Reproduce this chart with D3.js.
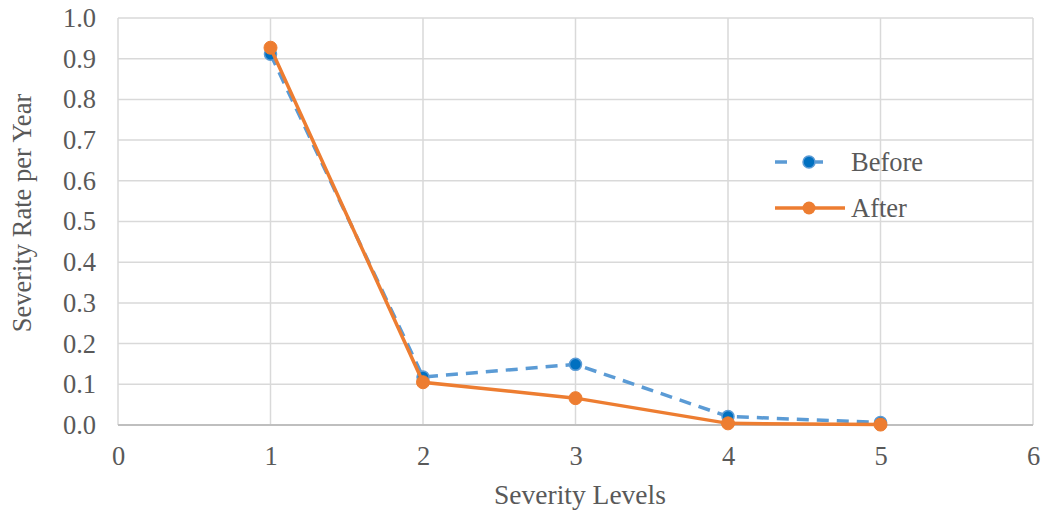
<!DOCTYPE html>
<html>
<head>
<meta charset="utf-8">
<script src="https://cdn.jsdelivr.net/npm/d3@7"></script>
<style>
  html, body { margin: 0; padding: 0; background: #fff; }
  svg { display: block; }
  svg text { font-family: 'Liberation Serif', 'DejaVu Serif', serif; }
</style>
</head>
<body>
<svg id="chart" width="1044" height="512"></svg>
<script>
// Severity levels on the x axis
const levels = [1, 2, 3, 4, 5];
// Severity rate per year, before and after
const beforeValues = [0.911, 0.118, 0.149, 0.021, 0.006];
const afterValues = [0.927, 0.105, 0.066, 0.004, 0.001];
const seriesNames = ["Before", "After"];
const xTicks = [0, 1, 2, 3, 4, 5, 6];
const yTicks = [0, 0.1, 0.2, 0.3, 0.4, 0.5, 0.6, 0.7, 0.8, 0.9, 1.0];

const serif = "'Liberation Serif', 'DejaVu Serif', serif";
const svg = d3.select("#chart");
const margin = { left: 118, right: 11, top: 18, bottom: 87 };
const W = 1044, H = 512;

const x = d3.scaleLinear().domain([0, 6]).range([margin.left, W - margin.right]);
const y = d3.scaleLinear().domain([0, 1]).range([H - margin.bottom, margin.top]);

const textColor = "#595959";
const fontSize = "26.5px";

// Gridlines
svg.append("g").selectAll("line").data(yTicks.slice(1)).join("line")
  .attr("x1", x(0)).attr("x2", x(6))
  .attr("y1", d => y(d)).attr("y2", d => y(d))
  .attr("stroke", "#d9d9d9").attr("stroke-width", 1.5);
svg.append("g").selectAll("line").data(xTicks).join("line")
  .attr("x1", d => x(d)).attr("x2", d => x(d))
  .attr("y1", y(0)).attr("y2", y(1))
  .attr("stroke", "#d9d9d9").attr("stroke-width", 1.5);

// Horizontal axis line
svg.append("line")
  .attr("x1", x(0)).attr("x2", x(6)).attr("y1", y(0)).attr("y2", y(0))
  .attr("stroke", "#bfbfbf").attr("stroke-width", 2);

// Y tick labels
const yAxis = d3.axisLeft(y).tickValues(yTicks).tickFormat(d3.format(".1f")).tickSize(0).tickPadding(22);
const gy = svg.append("g").attr("transform", `translate(${x(0)},0)`).call(yAxis)
  .attr("font-family", serif).attr("font-size", fontSize);
gy.select(".domain").remove();
gy.selectAll("text").attr("fill", textColor);

// X tick labels
const xAxis = d3.axisBottom(x).tickValues(xTicks).tickFormat(d3.format("d")).tickSize(0).tickPadding(21);
const gx = svg.append("g").attr("transform", `translate(0,${y(0)})`).call(xAxis)
  .attr("font-family", serif).attr("font-size", fontSize);
gx.select(".domain").remove();
gx.selectAll("text").attr("fill", textColor);

// Axis titles
svg.append("text")
  .attr("transform", `translate(31,213) rotate(-90)`)
  .attr("text-anchor", "middle")
  .attr("font-family", serif).attr("font-size", fontSize)
  .attr("fill", textColor)
  .text("Severity Rate per Year");
svg.append("text")
  .attr("x", 580).attr("y", 504)
  .attr("text-anchor", "middle")
  .attr("font-family", serif).attr("font-size", "27.5px")
  .attr("fill", textColor)
  .text("Severity Levels");

const line = d3.line().x(d => x(d[0])).y(d => y(d[1]));
const beforePts = levels.map((l, i) => [l, beforeValues[i]]);
const afterPts = levels.map((l, i) => [l, afterValues[i]]);

const blueLine = "#5b9bd5", blueFill = "#0070c0", orange = "#ed7d31";

// Before series: dashed
svg.append("path").datum(beforePts).attr("d", line)
  .attr("fill", "none").attr("stroke", blueLine).attr("stroke-width", 3.5)
  .attr("stroke-dasharray", "12,8");
svg.append("g").selectAll("circle").data(beforePts).join("circle")
  .attr("cx", d => x(d[0])).attr("cy", d => y(d[1])).attr("r", 6)
  .attr("fill", blueFill).attr("stroke", blueLine).attr("stroke-width", 1.5);

// After series: solid
svg.append("path").datum(afterPts).attr("d", line)
  .attr("fill", "none").attr("stroke", orange).attr("stroke-width", 3.5);
svg.append("g").selectAll("circle").data(afterPts).join("circle")
  .attr("cx", d => x(d[0])).attr("cy", d => y(d[1])).attr("r", 6.5)
  .attr("fill", orange).attr("stroke", orange).attr("stroke-width", 1);

// Legend
const legend = svg.append("g");
const legendY = [162, 208];
// Before entry
legend.append("line").attr("x1", 775).attr("x2", 845).attr("y1", legendY[0]).attr("y2", legendY[0])
  .attr("stroke", blueLine).attr("stroke-width", 3.5).attr("stroke-dasharray", "12,24");
legend.append("circle").attr("cx", 809).attr("cy", legendY[0]).attr("r", 6)
  .attr("fill", blueFill).attr("stroke", blueLine).attr("stroke-width", 1.5);
// After entry
legend.append("line").attr("x1", 775).attr("x2", 845).attr("y1", legendY[1]).attr("y2", legendY[1])
  .attr("stroke", orange).attr("stroke-width", 3.5);
legend.append("circle").attr("cx", 809).attr("cy", legendY[1]).attr("r", 6.5)
  .attr("fill", orange);
legend.selectAll("text").data(seriesNames).join("text")
  .attr("x", 851).attr("y", (d, i) => legendY[i] + 9)
  .attr("font-family", serif).attr("font-size", fontSize)
  .attr("fill", textColor)
  .text(d => d);
</script>
</body>
</html>
